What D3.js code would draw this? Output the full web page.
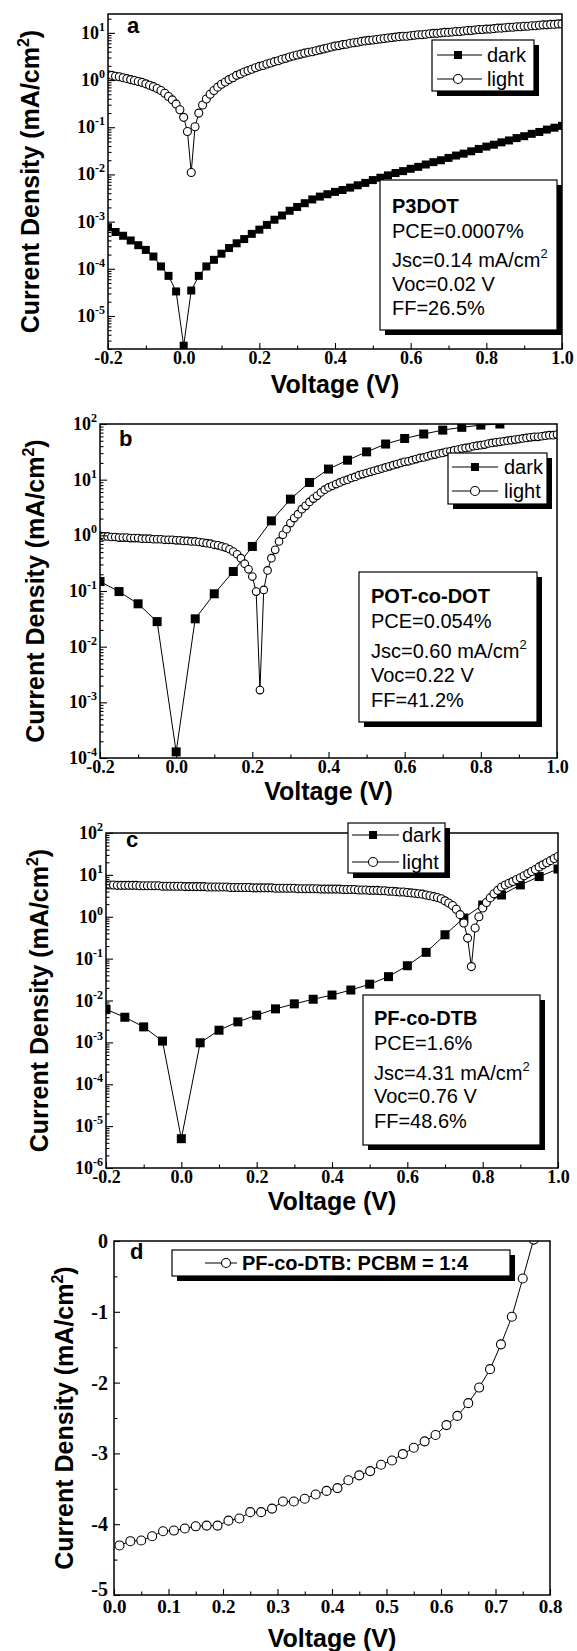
<!DOCTYPE html>
<html>
<head>
<meta charset="utf-8">
<script src="https://cdn.jsdelivr.net/npm/d3@7"></script>
<style>
  body { margin: 0; background: #fff; }
  svg { display: block; }
</style>
</head>
<body>
<svg id="fig" width="577" height="1651"></svg>
<script>
// ---------- data ----------
// voltage sweeps (V)
const voltsFine = d3.range(-20, 101).map(i => i / 100);   // 0.01 V steps, -0.2 .. 1.0
const voltsA_dark = d3.range(-10, 51).map(i => i / 50);   // 0.02 V steps
const voltsB_dark = d3.range(-4, 18).map(i => i / 20);    // 0.05 V steps, -0.2 .. 0.85
const voltsC_dark = d3.range(-4, 21).map(i => i / 20);    // 0.05 V steps, -0.2 .. 1.0
const voltsD = d3.range(0, 39).map(i => 0.01 + i * 0.02); // 0.01 .. 0.77

// panels a-c: log10 of |J| (mA/cm2)
const lightA_log = [
  0.11, 0.10, 0.08, 0.07, 0.05, 0.03, 0.01, -0.01, -0.03, -0.05,
  -0.08, -0.11, -0.14, -0.18, -0.22, -0.28, -0.35, -0.42, -0.51, -0.63,
  -0.79, -1.09, -1.96, -0.99, -0.70, -0.53, -0.40, -0.30, -0.22, -0.15,
  -0.09, -0.04, 0.01, 0.05, 0.10, 0.13, 0.17, 0.20, 0.23, 0.26,
  0.29, 0.31, 0.34, 0.36, 0.39, 0.41, 0.44, 0.46, 0.49, 0.51,
  0.53, 0.55, 0.57, 0.59, 0.60, 0.62, 0.64, 0.66, 0.68, 0.70,
  0.72, 0.73, 0.75, 0.76, 0.78, 0.79, 0.80, 0.82, 0.83, 0.84,
  0.85, 0.86, 0.87, 0.88, 0.89, 0.90, 0.91, 0.92, 0.93, 0.93,
  0.94, 0.95, 0.96, 0.96, 0.97, 0.98, 0.99, 0.99, 1.00, 1.01,
  1.01, 1.02, 1.03, 1.03, 1.04, 1.05, 1.05, 1.06, 1.07, 1.07,
  1.08, 1.08, 1.09, 1.10, 1.10, 1.11, 1.12, 1.12, 1.13, 1.13,
  1.14, 1.14, 1.15, 1.15, 1.16, 1.17, 1.17, 1.18, 1.18, 1.19,
  1.19
];
const darkA_log = [
  -3.12, -3.22, -3.30, -3.40, -3.50, -3.60, -3.74, -3.95, -4.15, -4.48,
  -5.63, -4.46, -4.15, -3.95, -3.81, -3.68, -3.56, -3.46, -3.37, -3.26,
  -3.17, -3.07, -2.96, -2.87, -2.77, -2.69, -2.61, -2.53, -2.47, -2.42,
  -2.37, -2.33, -2.28, -2.23, -2.18, -2.12, -2.07, -2.02, -1.97, -1.93,
  -1.88, -1.84, -1.79, -1.74, -1.70, -1.65, -1.60, -1.56, -1.51, -1.46,
  -1.41, -1.37, -1.32, -1.28, -1.23, -1.19, -1.14, -1.10, -1.05, -1.01,
  -0.97
];
const lightB_log = [
  -0.01, -0.02, -0.02, -0.03, -0.03, -0.04, -0.04, -0.04, -0.05, -0.05,
  -0.05, -0.06, -0.06, -0.06, -0.07, -0.07, -0.07, -0.08, -0.08, -0.08,
  -0.09, -0.09, -0.10, -0.10, -0.11, -0.11, -0.12, -0.13, -0.14, -0.15,
  -0.17, -0.18, -0.20, -0.22, -0.25, -0.29, -0.34, -0.41, -0.51, -0.61,
  -0.74, -1.01, -2.78, -0.98, -0.63, -0.41, -0.26, -0.11, 0.01, 0.11,
  0.22, 0.31, 0.38, 0.47, 0.53, 0.60, 0.66, 0.71, 0.77, 0.82,
  0.86, 0.89, 0.92, 0.95, 0.98, 1.00, 1.03, 1.05, 1.08, 1.10,
  1.12, 1.14, 1.16, 1.18, 1.20, 1.22, 1.24, 1.26, 1.28, 1.30,
  1.32, 1.33, 1.35, 1.37, 1.39, 1.40, 1.42, 1.44, 1.45, 1.47,
  1.48, 1.50, 1.51, 1.53, 1.54, 1.56, 1.57, 1.58, 1.60, 1.61,
  1.62, 1.63, 1.65, 1.66, 1.67, 1.68, 1.69, 1.70, 1.71, 1.72,
  1.73, 1.74, 1.75, 1.76, 1.77, 1.77, 1.78, 1.79, 1.80, 1.80,
  1.81
];
const darkB_log = [
  -0.83, -1.01, -1.23, -1.55, -3.89, -1.50, -1.05, -0.65, -0.20, 0.26,
  0.65, 0.95, 1.19, 1.35, 1.50, 1.64, 1.74, 1.82, 1.89, 1.94,
  1.98, 2.00
];
const lightC_log = [
  0.76, 0.76, 0.76, 0.75, 0.75, 0.75, 0.75, 0.75, 0.75, 0.74,
  0.74, 0.74, 0.74, 0.74, 0.74, 0.73, 0.73, 0.73, 0.73, 0.73,
  0.73, 0.72, 0.72, 0.72, 0.72, 0.72, 0.72, 0.71, 0.71, 0.71,
  0.71, 0.71, 0.71, 0.70, 0.70, 0.70, 0.70, 0.70, 0.70, 0.69,
  0.69, 0.69, 0.69, 0.69, 0.69, 0.68, 0.68, 0.68, 0.68, 0.68,
  0.68, 0.67, 0.67, 0.67, 0.67, 0.67, 0.67, 0.66, 0.66, 0.66,
  0.66, 0.66, 0.66, 0.65, 0.65, 0.65, 0.65, 0.64, 0.64, 0.64,
  0.63, 0.63, 0.63, 0.62, 0.62, 0.61, 0.61, 0.60, 0.59, 0.59,
  0.58, 0.57, 0.56, 0.55, 0.54, 0.52, 0.50, 0.48, 0.46, 0.43,
  0.38, 0.33, 0.27, 0.18, 0.05, -0.15, -0.51, -1.19, -0.27, 0.00,
  0.21, 0.34, 0.45, 0.55, 0.63, 0.71, 0.76, 0.80, 0.84, 0.89,
  0.93, 0.98, 1.03, 1.08, 1.13, 1.19, 1.24, 1.29, 1.34, 1.39,
  1.44
];
const darkC_log = [
  -2.21, -2.40, -2.63, -2.97, -5.30, -3.01, -2.71, -2.51, -2.35, -2.20,
  -2.08, -1.97, -1.87, -1.75, -1.61, -1.43, -1.17, -0.85, -0.43, -0.03,
  0.28, 0.52, 0.76, 0.96, 1.14
];
// panel d: J (mA/cm2), linear axis
const jD = [
  -4.30, -4.24, -4.23, -4.17, -4.10, -4.09, -4.06, -4.03, -4.02, -4.02,
  -3.95, -3.92, -3.83, -3.83, -3.78, -3.68, -3.68, -3.64, -3.58, -3.53,
  -3.49, -3.38, -3.31, -3.25, -3.16, -3.10, -3.01, -2.92, -2.83, -2.74,
  -2.60, -2.47, -2.29, -2.07, -1.81, -1.46, -1.07, -0.53, 0.02
];

const xTicksMain = [-0.2, 0, 0.2, 0.4, 0.6, 0.8, 1.0];
const xTicksMinor = [-0.1, 0.1, 0.3, 0.5, 0.7, 0.9];
const xTicksD = [0, 0.1, 0.2, 0.3, 0.4, 0.5, 0.6, 0.7, 0.8];
const yTicksD = [0, -1, -2, -3, -4, -5];

const infoA = ['P3DOT', 'PCE=0.0007%', 'Jsc=0.14 mA/cm^2', 'Voc=0.02 V', 'FF=26.5%'];
const infoB = ['POT-co-DOT', 'PCE=0.054%', 'Jsc=0.60 mA/cm^2', 'Voc=0.22 V', 'FF=41.2%'];
const infoC = ['PF-co-DTB', 'PCE=1.6%', 'Jsc=4.31 mA/cm^2', 'Voc=0.76 V', 'FF=48.6%'];

// ---------- drawing ----------
const SANS = '"Liberation Sans", Arial, sans-serif';
const SERIF = '"Liberation Serif", "Times New Roman", serif';
const svg = d3.select('#fig');

const pair = (xs, logs) => logs.map((v, i) => [xs[i], Math.pow(10, v)]);

function frame(p) {
  svg.append('clipPath').attr('id', 'clip-' + p.id)
    .append('rect')
    .attr('x', p.left).attr('y', p.top)
    .attr('width', p.right - p.left).attr('height', p.bottom - p.top);
}

function drawSeries(g, p, x, y, pts, kind) {
  const line = d3.line().x(d => x(d[0])).y(d => y(d[1]));
  g.append('path').datum(pts)
    .attr('d', line).attr('fill', 'none')
    .attr('stroke', '#000').attr('stroke-width', 1);
  if (kind === 'square') {
    g.selectAll(null).data(pts).enter().append('rect')
      .attr('x', d => x(d[0]) - p.sq / 2).attr('y', d => y(d[1]) - p.sq / 2)
      .attr('width', p.sq).attr('height', p.sq).attr('fill', '#000');
  } else {
    g.selectAll(null).data(pts).enter().append('circle')
      .attr('cx', d => x(d[0])).attr('cy', d => y(d[1]))
      .attr('r', p.r).attr('fill', '#fff')
      .attr('stroke', '#000').attr('stroke-width', 1.1);
  }
}

function yTitle(cx, cy) {
  const t = svg.append('text')
    .attr('transform', `translate(${cx},${cy}) rotate(-90)`)
    .attr('text-anchor', 'middle')
    .attr('font-family', SANS).attr('font-weight', 'bold').attr('font-size', 25);
  t.append('tspan').text('Current Density (mA/cm');
  t.append('tspan').attr('dy', -10).attr('font-size', 16).text('2');
  t.append('tspan').attr('dy', 10).text(')');
}

function xTitle(cx, base) {
  svg.append('text').attr('x', cx).attr('y', base)
    .attr('text-anchor', 'middle')
    .attr('font-family', SANS).attr('font-weight', 'bold').attr('font-size', 25)
    .text('Voltage (V)');
}

function panelLabel(t, px, py) {
  svg.append('text').attr('x', px).attr('y', py)
    .attr('font-family', SANS).attr('font-weight', 'bold').attr('font-size', 22)
    .text(t);
}

function shadowBox(b) {
  svg.append('rect').attr('x', b.x + 5).attr('y', b.y + 5)
    .attr('width', b.w).attr('height', b.h).attr('fill', '#000');
  svg.append('rect').attr('x', b.x).attr('y', b.y)
    .attr('width', b.w).attr('height', b.h).attr('fill', '#fff')
    .attr('stroke', '#000').attr('stroke-width', 1.2);
}

function legend(b, rows, size) {
  shadowBox(b);
  rows.forEach(r => {
    svg.append('line').attr('x1', b.l1).attr('x2', b.l2).attr('y1', r.y).attr('y2', r.y)
      .attr('stroke', '#000').attr('stroke-width', 1);
    if (r.kind === 'square') {
      svg.append('rect').attr('x', b.mx - 4).attr('y', r.y - 4)
        .attr('width', 8).attr('height', 8).attr('fill', '#000');
    } else {
      svg.append('circle').attr('cx', b.mx).attr('cy', r.y).attr('r', 4.5)
        .attr('fill', '#fff').attr('stroke', '#000').attr('stroke-width', 1.1);
    }
    svg.append('text').attr('x', b.tx).attr('y', r.y + 7)
      .attr('font-family', SANS).attr('font-size', size)
      .attr('font-weight', r.bold ? 'bold' : 'normal')
      .text(r.label);
  });
}

function infoBox(b, lines) {
  shadowBox(b);
  lines.forEach((s, i) => {
    const parts = s.split('^');
    const t = svg.append('text').attr('x', b.tx).attr('y', b.base[i])
      .attr('font-family', SANS).attr('font-size', 20)
      .attr('font-weight', i === 0 ? 'bold' : 'normal');
    t.append('tspan').text(parts[0]);
    if (parts[1]) t.append('tspan').attr('dy', -9).attr('font-size', 13).text(parts[1]);
  });
}

function logPanel(p) {
  frame(p);
  const x = d3.scaleLinear().domain([-0.2, 1.0]).range([p.left, p.right]);
  const y = d3.scaleLog().domain(p.yDomain).range([p.bottom, p.top]);

  // data
  const g = svg.append('g').attr('clip-path', `url(#clip-${p.id})`);
  drawSeries(g, p, x, y, p.dark, 'square');
  drawSeries(g, p, x, y, p.light, 'circle');

  // bottom axis, ticks pointing inwards
  const bx = svg.append('g').attr('transform', `translate(0,${p.bottom})`)
    .call(d3.axisBottom(x).tickValues(xTicksMain).tickSize(-6).tickPadding(2)
      .tickFormat(d => d.toFixed(1)));
  bx.select('.domain').remove();
  bx.selectAll('text').attr('font-family', SERIF).attr('font-weight', 'bold')
    .attr('font-size', 18).attr('fill', '#000');
  svg.append('g').attr('transform', `translate(0,${p.bottom})`)
    .call(d3.axisBottom(x).tickValues(xTicksMinor).tickSize(-3.5).tickFormat(''))
    .select('.domain').remove();

  // left log axis
  const lo = Math.log10(p.yDomain[0]), hi = Math.log10(p.yDomain[1]);
  const majors = d3.range(Math.ceil(lo - 1e-9), Math.floor(hi + 1e-9) + 1);
  const minors = [];
  for (let e = Math.floor(lo); e < Math.ceil(hi); e++) {
    for (let m = 2; m <= 9; m++) {
      const v = m * Math.pow(10, e);
      if (v >= p.yDomain[0] && v <= p.yDomain[1]) minors.push(v);
    }
  }
  svg.append('g').attr('transform', `translate(${p.left},0)`)
    .call(d3.axisLeft(y).tickValues(majors.map(e => Math.pow(10, e))).tickSize(-7).tickFormat(''))
    .select('.domain').remove();
  svg.append('g').attr('transform', `translate(${p.left},0)`)
    .call(d3.axisLeft(y).tickValues(minors).tickSize(-3.5).tickFormat(''))
    .select('.domain').remove();
  majors.forEach(e => {
    const t = svg.append('text').attr('x', p.left - 3).attr('y', y(Math.pow(10, e)) + 6)
      .attr('text-anchor', 'end')
      .attr('font-family', SERIF).attr('font-weight', 'bold').attr('font-size', 18);
    t.append('tspan').text('10');
    t.append('tspan').attr('dy', -8).attr('font-size', 12).text(e < 0 ? '-' + (-e) : String(e));
  });

  svg.selectAll('.tick line').attr('stroke', '#000').attr('stroke-width', 1.1);

  svg.append('rect').attr('x', p.left).attr('y', p.top)
    .attr('width', p.right - p.left).attr('height', p.bottom - p.top)
    .attr('fill', 'none').attr('stroke', '#000').attr('stroke-width', 1.5);

  panelLabel(p.id, p.labelX, p.labelY);
  xTitle((p.left + p.right) / 2, p.xTitleY);
  yTitle(p.yTitleX, (p.top + p.bottom) / 2);
  legend(p.legend, [
    { label: 'dark', kind: 'square', y: p.legend.r1 },
    { label: 'light', kind: 'circle', y: p.legend.r2 }
  ], 20);
  infoBox(p.info, p.infoLines);
}

logPanel({
  id: 'a', left: 108, right: 562, top: 14, bottom: 349,
  yDomain: [Math.pow(10, -5.7), Math.pow(10, 1.4)], sq: 8, r: 4,
  dark: pair(voltsA_dark, darkA_log), light: pair(voltsFine, lightA_log),
  labelX: 127, labelY: 33, xTitleY: 393, yTitleX: 39,
  legend: { x: 432, y: 40, w: 102, h: 51, r1: 55, r2: 79, l1: 437, l2: 482, mx: 458, tx: 487 },
  info: { x: 380, y: 180, w: 177, h: 150, tx: 392, base: [213, 238, 267, 291, 315] },
  infoLines: infoA
});

logPanel({
  id: 'b', left: 100, right: 557, top: 424, bottom: 758,
  yDomain: [1e-4, 1e2], sq: 9, r: 3.8,
  dark: pair(voltsB_dark, darkB_log), light: pair(voltsFine, lightB_log),
  labelX: 119, labelY: 446, xTitleY: 800, yTitleX: 44,
  legend: { x: 448, y: 453, w: 99, h: 51, r1: 467, r2: 491, l1: 452, l2: 498, mx: 475, tx: 504 },
  info: { x: 359, y: 572, w: 178, h: 150, tx: 371, base: [603, 628, 658, 682, 707] },
  infoLines: infoB
});

logPanel({
  id: 'c', left: 106, right: 558, top: 833, bottom: 1168,
  yDomain: [1e-6, 1e2], sq: 9, r: 4,
  dark: pair(voltsC_dark, darkC_log), light: pair(voltsFine, lightC_log),
  labelX: 126, labelY: 847, xTitleY: 1210, yTitleX: 48,
  legend: { x: 348, y: 823, w: 97, h: 50, r1: 835, r2: 862, l1: 352, l2: 399, mx: 373, tx: 402 },
  info: { x: 363, y: 995, w: 177, h: 150, tx: 374, base: [1025, 1050, 1080, 1103, 1128] },
  infoLines: infoC
});

// ---------- panel d (linear) ----------
(function () {
  const p = { id: 'd', left: 114, right: 550, top: 1241, bottom: 1595, r: 4.5 };
  frame(p);
  const x = d3.scaleLinear().domain([0, 0.8]).range([p.left, p.right]);
  const y = d3.scaleLinear().domain([-5, 0]).range([p.bottom, p.top]);
  const pts = jD.map((v, i) => [voltsD[i], v]);

  const bx = svg.append('g').attr('transform', `translate(0,${p.bottom})`)
    .call(d3.axisBottom(x).tickValues(xTicksD).tickSize(-6).tickPadding(5)
      .tickFormat(d => d.toFixed(1)));
  bx.select('.domain').remove();
  bx.selectAll('text').attr('font-family', SERIF).attr('font-weight', 'bold')
    .attr('font-size', 19).attr('fill', '#000');
  svg.append('g').attr('transform', `translate(0,${p.bottom})`)
    .call(d3.axisBottom(x).tickValues(xTicksD.slice(0, -1).map(v => v + 0.05)).tickSize(-3.5).tickFormat(''))
    .select('.domain').remove();

  const ly = svg.append('g').attr('transform', `translate(${p.left},0)`)
    .call(d3.axisLeft(y).tickValues(yTicksD).tickSize(-6).tickPadding(6)
      .tickFormat(d => String(d)));
  ly.select('.domain').remove();
  ly.selectAll('text').attr('font-family', SERIF).attr('font-weight', 'bold')
    .attr('font-size', 20).attr('fill', '#000');
  // lift the bottom label a little so it clears the "0.0" below it
  ly.selectAll('.tick').filter(d => d === -5).select('text').attr('dy', '0.02em');
  svg.append('g').attr('transform', `translate(${p.left},0)`)
    .call(d3.axisLeft(y).tickValues(yTicksD.slice(1).map(v => v + 0.5)).tickSize(-3.5).tickFormat(''))
    .select('.domain').remove();
  svg.selectAll('.tick line').attr('stroke', '#000').attr('stroke-width', 1.1);

  const g = svg.append('g').attr('clip-path', 'url(#clip-d)');
  drawSeries(g, p, x, y, pts, 'circle');

  svg.append('rect').attr('x', p.left).attr('y', p.top)
    .attr('width', p.right - p.left).attr('height', p.bottom - p.top)
    .attr('fill', 'none').attr('stroke', '#000').attr('stroke-width', 1.5);

  panelLabel('d', 130, 1259);
  xTitle((p.left + p.right) / 2, 1647);
  yTitle(73, (p.top + p.bottom) / 2);
  legend({ x: 172, y: 1250, w: 338, h: 26, l1: 205, l2: 237, mx: 226, tx: 242 },
    [{ label: 'PF-co-DTB: PCBM = 1:4', kind: 'circle', y: 1263, bold: true }], 20);
})();
</script>
</body>
</html>
